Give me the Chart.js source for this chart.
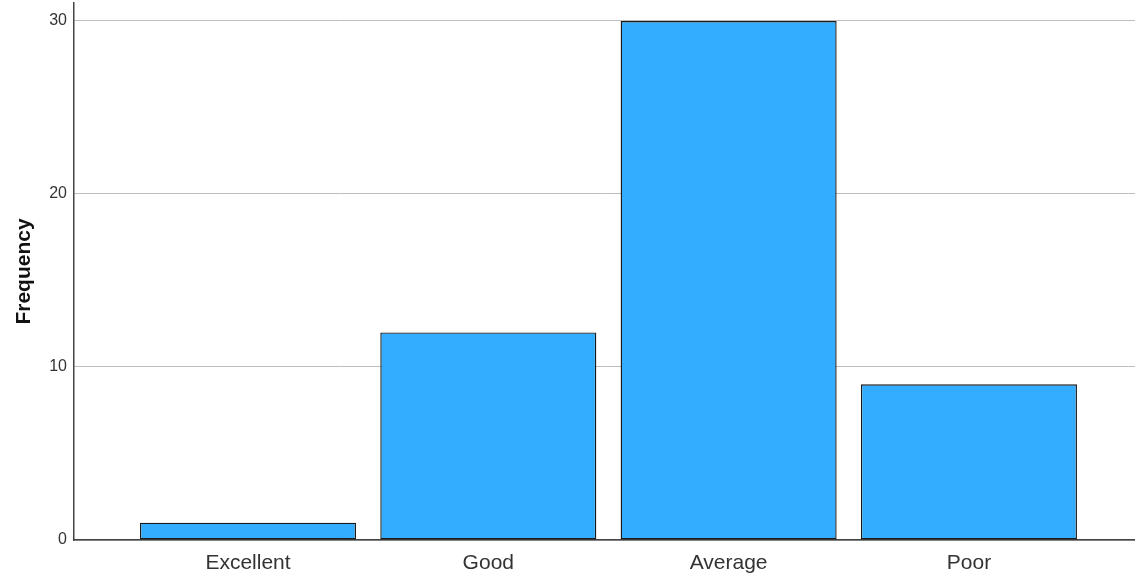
<!DOCTYPE html>
<html><head><meta charset="utf-8">
<script src="https://cdn.jsdelivr.net/npm/chart.js@4"></script>
<style>html,body{margin:0;padding:0;background:#fff}#wrap{width:1135px;height:573px}</style>
</head><body><div id="wrap"><canvas id="c" width="1135" height="573"></canvas></div>
<script>
const categories = ["Excellent", "Good", "Average", "Poor"];
const frequencies = [1, 12, 30, 9];
const yTicks = [0, 10, 20, 30];

const points = categories.map((c, i) => ({x: i, y: frequencies[i]}));

new Chart(document.getElementById('c'), {
  type: 'bar',
  data: {
    datasets: [{
      data: points,
      backgroundColor: '#33adff',
      borderColor: '#1a1a1a',
      borderWidth: 1.4,
      borderSkipped: false,
      barPercentage: 0.899,
      categoryPercentage: 1.0
    }]
  },
  options: {
    responsive: false,
    animation: false,
    layout: {padding: {top: 3, left: 0, right: 0, bottom: 0}},
    plugins: {legend: {display: false}, tooltip: {enabled: false}},
    scales: {
      x: {
        type: 'linear',
        offset: false,
        min: -0.724,
        max: 3.691,
        grid: {display: false, drawTicks: false},
        border: {display: true, color: '#444', width: 1.5},
        afterBuildTicks: s => { s.ticks = categories.map((c, i) => ({value: i})); },
        afterFit: s => { s.height = 33; s.paddingLeft = 0; s.paddingRight = 0; },
        ticks: {
          padding: 11,
          color: '#333',
          font: {family: 'Liberation Sans, Arial, sans-serif', size: 21},
          callback: v => categories[v]
        }
      },
      y: {
        min: 0,
        max: 31.04,
        afterBuildTicks: s => { s.ticks = yTicks.map(v => ({value: v})); },
        afterFit: s => { s.width = 74; s.paddingTop = 0; s.paddingBottom = 0; },
        grid: {color: '#bdbdbd', lineWidth: 1, drawTicks: false},
        border: {display: true, color: '#444', width: 1.5},
        ticks: {
          padding: 7,
          color: '#333',
          font: {family: 'Liberation Sans, Arial, sans-serif', size: 16}
        },
        title: {
          display: true,
          text: 'Frequency',
          color: '#111',
          padding: {top: 12, bottom: 0},
          font: {family: 'Liberation Sans, Arial, sans-serif', size: 21, weight: 'bold'}
        }
      }
    }
  }
});
</script></body></html>
